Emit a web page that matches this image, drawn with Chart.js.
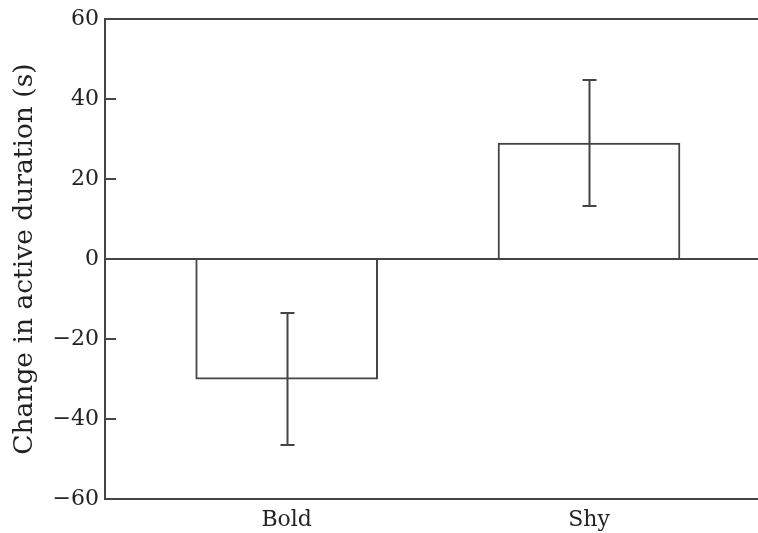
<!DOCTYPE html>
<html>
<head>
<meta charset="utf-8">
<script src="https://cdn.jsdelivr.net/npm/chart.js@4/dist/chart.umd.min.js"></script>
<style>
  html, body { margin: 0; padding: 0; background: #ffffff; }
  #wrap { width: 758px; height: 533px; position: relative; }
</style>
</head>
<body>
<div id="wrap"><canvas id="chart"></canvas></div>
<script>
// Groups and mean change in active duration (s)
const categories = ['Bold', 'Shy'];
const meanChange = [-30.0, 29.0];
// Error bar ends (s)
const errHigh = [-13.6, 44.8];
const errLow = [-46.5, 13.4];
// Y axis tick values
const yTicks = [-60, -40, -20, 0, 20, 40, 60];

const LINE = '#444444';
const TEXT = '#222222';
const SERIF = '"DejaVu Serif", "Liberation Serif", serif';

const formatTick = v => (v < 0 ? '\u2212' + Math.abs(v) : String(v));

// Short inward tick marks on the y axis and the error bars
const extras = {
  id: 'extras',
  afterDatasetsDraw(chart) {
    const { ctx, chartArea } = chart;
    const xs = chart.scales.x;
    const ys = chart.scales.y;
    ctx.save();
    ctx.strokeStyle = LINE;
    ctx.lineWidth = 2;
    ctx.lineCap = 'butt';
    // inward ticks
    ys.ticks.forEach(t => {
      if (t.value === ys.min || t.value === ys.max || t.value === 0) return;
      const py = Math.round(ys.getPixelForValue(t.value));
      ctx.beginPath();
      ctx.moveTo(chartArea.left, py);
      ctx.lineTo(chartArea.left + 11, py);
      ctx.stroke();
    });
    // error bars
    const half = 7;
    categories.forEach((c, i) => {
      const px = Math.round(xs.getPixelForValue(i)) + 0.5;
      const yHi = Math.round(ys.getPixelForValue(errHigh[i]));
      const yLo = Math.round(ys.getPixelForValue(errLow[i]));
      ctx.beginPath();
      ctx.moveTo(px, yHi);
      ctx.lineTo(px, yLo);
      ctx.moveTo(px - half, yHi);
      ctx.lineTo(px + half, yHi);
      ctx.moveTo(px - half, yLo);
      ctx.lineTo(px + half, yLo);
      ctx.stroke();
    });
    ctx.restore();
  }
};

new Chart(document.getElementById('chart'), {
  type: 'bar',
  data: {
    datasets: [{
      data: meanChange.map((v, i) => ({ x: i, y: v })),
      backgroundColor: '#ffffff',
      borderColor: LINE,
      borderWidth: 2,
      barThickness: 182
    }]
  },
  options: {
    responsive: true,
    maintainAspectRatio: false,
    animation: false,
    layout: { padding: { top: 18, right: 0, left: 0, bottom: 0 } },
    plugins: {
      legend: { display: false },
      tooltip: { enabled: false }
    },
    scales: {
      x: {
        type: 'linear',
        min: -0.601,
        max: 1.559,
        offset: false,
        afterBuildTicks: s => { s.ticks = categories.map((c, i) => ({ value: i })); },
        afterFit: s => { s.height = 34; },
        ticks: {
          callback: v => categories[v],
          font: { family: SERIF, size: 22 },
          color: TEXT,
          padding: 8,
          maxRotation: 0,
          autoSkip: false
        },
        grid: { display: false, drawTicks: false },
        border: { display: true, color: LINE, width: 2 }
      },
      y: {
        min: -60,
        max: 60,
        afterBuildTicks: s => { s.ticks = yTicks.map(v => ({ value: v })); },
        afterFit: s => { s.width = 105; },
        ticks: {
          callback: formatTick,
          font: { family: SERIF, size: 22 },
          color: TEXT,
          padding: 6
        },
        grid: {
          drawTicks: false,
          lineWidth: 2,
          color: ctx => (ctx.tick && (ctx.tick.value === 0 || ctx.tick.value === 60 || ctx.tick.value === -60)) ? LINE : 'rgba(0,0,0,0)'
        },
        border: { display: true, color: LINE, width: 2 },
        title: {
          display: true,
          text: 'Change in active duration (s)',
          font: { family: SERIF, size: 26.5 },
          color: TEXT,
          padding: { top: 9, bottom: 0 }
        }
      }
    }
  },
  plugins: [extras]
});
</script>
</body>
</html>
